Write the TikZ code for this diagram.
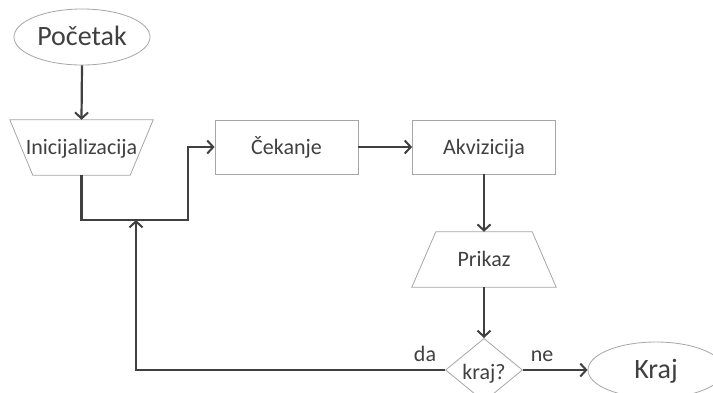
\documentclass[tikz,border=0pt]{standalone}
\usepackage{fontspec}
\setmainfont{Carlito}
\usetikzlibrary{shapes.geometric,arrows.meta}
\definecolor{ln}{HTML}{404040}
\definecolor{bd}{HTML}{A6A6A6}
\begin{document}
\begin{tikzpicture}[x=1pt,y=-1pt,
  txt/.style={text=ln,font=\fontsize{22}{26}\selectfont,inner sep=0pt,text height=17pt,text depth=3pt},
  big/.style={text=ln,font=\fontsize{28}{32}\selectfont,inner sep=0pt,text height=21pt,text depth=4pt},
  term/.style={ellipse,draw=bd,line width=0.8pt,minimum width=136pt,minimum height=56pt,big},
  proc/.style={rectangle,draw=bd,line width=0.8pt,minimum width=143pt,minimum height=54pt,txt},
  trap/.style={rectangle,minimum width=143pt,minimum height=55pt,txt},
  dec/.style={diamond,draw=bd,line width=0.8pt,minimum width=77pt,minimum height=56pt,inner sep=0pt,txt,text height=19pt,text depth=1pt},
  conn/.style={draw=ln,line width=2.2pt,-{Straight Barb[length=6pt,width=13pt,line width=2pt]}}]
\useasboundingbox (0,0) rectangle (713,392);
\clip (0,0) rectangle (713,392);
\fill[white] (0,0) rectangle (713,392);

\node[term] (start) at (82,37) {Početak};
\node[trap] (init) at (81.5,147.5) {Inicijalizacija};
\draw[bd,line width=0.8pt] (init.north west) -- (init.north east) -- ([xshift=-23pt]init.south east) -- ([xshift=23pt]init.south west) -- cycle;
\node[proc] (cek) at (286.5,147) {Čekanje};
\node[proc] (akv) at (484,147) {Akvizicija};
\node[trap,minimum width=144pt] (prik) at (484,259.5) {Prikaz};
\draw[bd,line width=0.8pt] ([xshift=24pt]prik.north west) -- ([xshift=-24pt]prik.north east) -- (prik.south east) -- (prik.south west) -- cycle;
\node[dec] (kraj) at (484,370) {kraj?};
\node[term] (end) at (656,370) {Kraj};

\coordinate (c1) at (188,220);
\coordinate (m) at (136,220);

\draw[conn] (start.south) -- (init.north);
\draw[conn] (init.south) |- (c1) |- (cek.west);
\draw[conn] (cek.east) -- (akv.west);
\draw[conn] (akv.south) -- (prik.north);
\draw[conn] (prik.south) -- (kraj.north);
\draw[conn] (kraj.east) -- (end.west);
\draw[conn] (kraj.west) -| (m);

\node[txt] (da) at (425,354) {da};
\node[txt] (ne) at (542,354) {ne};
\end{tikzpicture}
\end{document}
